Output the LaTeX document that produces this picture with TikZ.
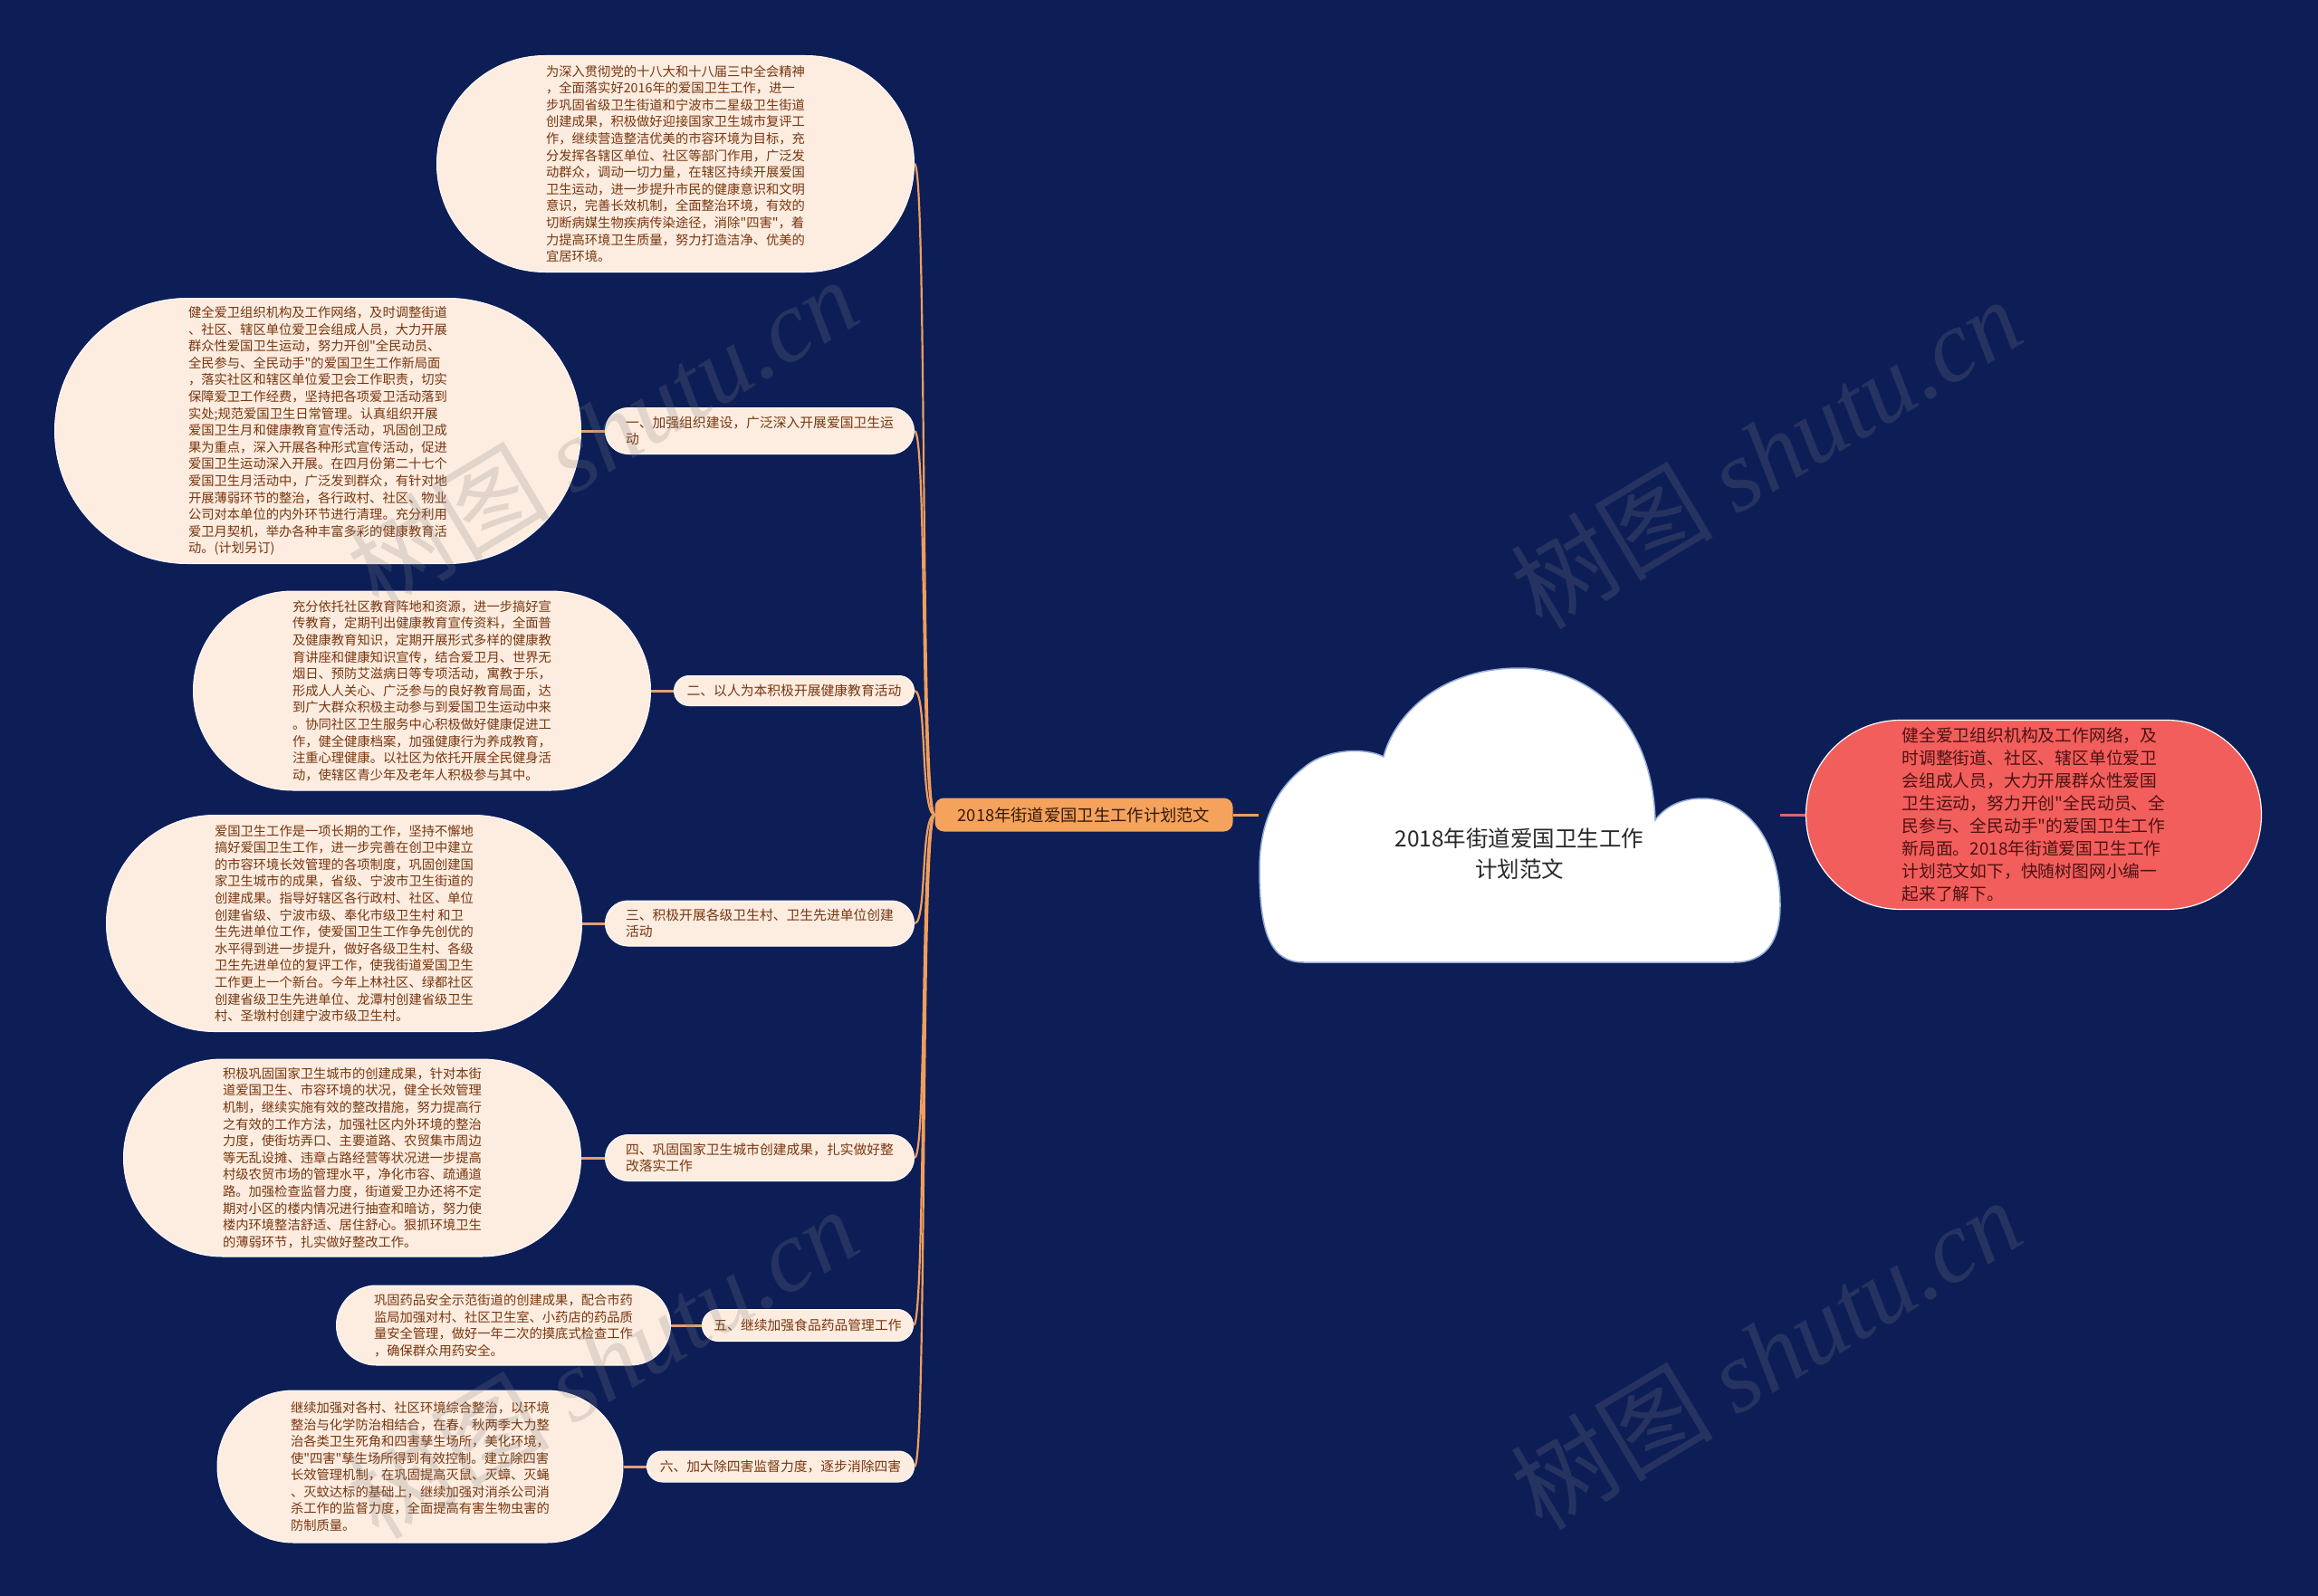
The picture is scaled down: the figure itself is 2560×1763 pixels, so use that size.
\documentclass[tikz,border=0pt]{standalone}
\usepackage{fontspec}
\setmainfont{Noto Sans CJK SC}
\newfontfamily\cjk{Noto Sans CJK SC}
\newfontfamily\wmfont{Liberation Serif}
\usetikzlibrary{shapes.misc}
\definecolor{bg}{RGB}{13,30,87}
\definecolor{peach}{RGB}{253,236,224}
\definecolor{brownt}{RGB}{120,55,15}
\definecolor{linkc}{RGB}{226,160,118}
\definecolor{branchc}{RGB}{240,158,92}
\definecolor{mainfill}{RGB}{244,162,92}
\definecolor{redfill}{RGB}{242,94,92}
\definecolor{redtext}{RGB}{75,18,18}
\definecolor{redline}{RGB}{214,104,110}
\definecolor{cloudedge}{RGB}{150,175,220}
\begin{document}
\begin{tikzpicture}[x=1pt,y=-1pt,
  detail/.style={rounded rectangle, fill=peach, draw=white, line width=1pt,
    inner xsep=0pt, inner ysep=0pt, text=brownt, align=left,
    font=\cjk\fontsize{14.3}{18.6}\selectfont},
  cat/.style={rounded rectangle, fill=peach, draw=white, line width=1pt,
    inner xsep=0pt, inner ysep=0pt, text=brownt, align=left, anchor=east,
    font=\cjk\fontsize{14.8}{17.5}\selectfont},
  linkline/.style={draw=linkc, line width=3pt},
  branchline/.style={draw=branchc, line width=2.2pt},
  wm/.style={rotate=31, text=gray, opacity=0.22, font=\cjk\fontsize{112}{112}\selectfont}
]
\useasboundingbox (0,0) rectangle (2560,1763);
\fill[bg] (0,0) rectangle (2560,1763);

% central cloud
\draw[fill=white, draw=cloudedge, line width=1.5pt]
  (1440,1063) -- (1915,1063)
  .. controls (1950,1063) and (1966,1040) .. (1966,1000)
  .. controls (1966,930) and (1930,882) .. (1880,882)
  .. controls (1856,882) and (1838,892) .. (1828,906)
  .. controls (1825,800) and (1760,738) .. (1678,738)
  .. controls (1590,738) and (1540,790) .. (1528,836)
  .. controls (1510,826) and (1465,826) .. (1440,848)
  .. controls (1405,875) and (1391,915) .. (1391,960)
  .. controls (1391,1035) and (1405,1063) .. (1440,1063) -- cycle;
\node[text={rgb,255:red,40;green,40;blue,40}, align=center,
  font=\cjk\fontsize{24.5}{34}\selectfont] (root) at (1678,943)
  {2018年街道爱国卫生工作\\计划范文};
\coordinate (rootL) at (1390,900);
\coordinate (rootR) at (1966,900);

% right red node
\node[rounded rectangle, fill=redfill, draw=white, line width=1.2pt,
  inner xsep=0pt, inner ysep=0pt, minimum width=503pt, minimum height=209pt,
  text=redtext, align=left, font=\cjk\fontsize{18.8}{25}\selectfont] (R) at (2246,900)
  {健全爱卫组织机构及工作网络，及\\时调整街道、社区、辖区单位爱卫\\会组成人员，大力开展群众性爱国\\卫生运动，努力开创"全民动员、全\\民参与、全民动手"的爱国卫生工作\\新局面。2018年街道爱国卫生工作\\计划范文如下，快随树图网小编一\\起来了解下。};
\draw[draw=redline, line width=3pt] (rootR) -- (R.west);

% main branch node
\node[rectangle, rounded corners=10pt, fill=mainfill, minimum width=329pt,
  minimum height=37pt, inner sep=0pt, text={rgb,255:red,55;green,25;blue,5},
  font=\cjk\fontsize{18.3}{20}\selectfont] (main) at (1197,900)
  {2018年街道爱国卫生工作计划范文};
\draw[branchline, line width=3pt] (main.east) -- (rootL);

% top detail (direct)
\node[detail, minimum width=527pt, minimum height=239pt] (A) at (746,181)
  {为深入贯彻党的十八大和十八届三中全会精神\\，全面落实好2016年的爱国卫生工作，进一\\步巩固省级卫生街道和宁波市二星级卫生街道\\创建成果，积极做好迎接国家卫生城市复评工\\作，继续营造整洁优美的市容环境为目标，充\\分发挥各辖区单位、社区等部门作用，广泛发\\动群众，调动一切力量，在辖区持续开展爱国\\卫生运动，进一步提升市民的健康意识和文明\\意识，完善长效机制，全面整治环境，有效的\\切断病媒生物疾病传染途径，消除"四害"，着\\力提高环境卫生质量，努力打造洁净、优美的\\宜居环境。};

% category nodes
\node[cat, minimum width=341pt, minimum height=51pt] (c1) at (1010,476)
  {一、加强组织建设，广泛深入开展爱国卫生运\\动};
\node[cat, minimum width=265pt, minimum height=33pt] (c2) at (1010,763)
  {二、以人为本积极开展健康教育活动};
\node[cat, minimum width=341pt, minimum height=50pt] (c3) at (1010,1020)
  {三、积极开展各级卫生村、卫生先进单位创建\\活动};
\node[cat, minimum width=341pt, minimum height=51pt] (c4) at (1010,1279)
  {四、巩固国家卫生城市创建成果，扎实做好整\\改落实工作};
\node[cat, minimum width=233pt, minimum height=35pt] (c5) at (1009,1464)
  {五、继续加强食品药品管理工作};
\node[cat, minimum width=295pt, minimum height=34pt] (c6) at (1010,1620)
  {六、加大除四害监督力度，逐步消除四害};

% detail nodes
\node[detail, minimum width=581pt, minimum height=293pt] (B) at (351,476)
  {健全爱卫组织机构及工作网络，及时调整街道\\、社区、辖区单位爱卫会组成人员，大力开展\\群众性爱国卫生运动，努力开创"全民动员、\\全民参与、全民动手"的爱国卫生工作新局面\\，落实社区和辖区单位爱卫会工作职责，切实\\保障爱卫工作经费，坚持把各项爱卫活动落到\\实处;规范爱国卫生日常管理。认真组织开展\\爱国卫生月和健康教育宣传活动，巩固创卫成\\果为重点，深入开展各种形式宣传活动，促进\\爱国卫生运动深入开展。在四月份第二十七个\\爱国卫生月活动中，广泛发到群众，有针对地\\开展薄弱环节的整治，各行政村、社区、物业\\公司对本单位的内外环节进行清理。充分利用\\爱卫月契机，举办各种丰富多彩的健康教育活\\动。(计划另订)};
\node[detail, minimum width=505pt, minimum height=220pt] (C) at (466,763)
  {充分依托社区教育阵地和资源，进一步搞好宣\\传教育，定期刊出健康教育宣传资料，全面普\\及健康教育知识，定期开展形式多样的健康教\\育讲座和健康知识宣传，结合爱卫月、世界无\\烟日、预防艾滋病日等专项活动，寓教于乐，\\形成人人关心、广泛参与的良好教育局面，达\\到广大群众积极主动参与到爱国卫生运动中来\\。协同社区卫生服务中心积极做好健康促进工\\作，健全健康档案，加强健康行为养成教育，\\注重心理健康。以社区为依托开展全民健身活\\动，使辖区青少年及老年人积极参与其中。};
\node[detail, minimum width=525pt, minimum height=239pt] (D) at (380,1020)
  {爱国卫生工作是一项长期的工作，坚持不懈地\\搞好爱国卫生工作，进一步完善在创卫中建立\\的市容环境长效管理的各项制度，巩固创建国\\家卫生城市的成果，省级、宁波市卫生街道的\\创建成果。指导好辖区各行政村、社区、单位\\创建省级、宁波市级、奉化市级卫生村 和卫\\生先进单位工作，使爱国卫生工作争先创优的\\水平得到进一步提升，做好各级卫生村、各级\\卫生先进单位的复评工作，使我街道爱国卫生\\工作更上一个新台。今年上林社区、绿都社区\\创建省级卫生先进单位、龙潭村创建省级卫生\\村、圣墩村创建宁波市级卫生村。};
\node[detail, minimum width=505pt, minimum height=218pt] (E) at (389,1279)
  {积极巩固国家卫生城市的创建成果，针对本街\\道爱国卫生、市容环境的状况，健全长效管理\\机制，继续实施有效的整改措施，努力提高行\\之有效的工作方法，加强社区内外环境的整治\\力度，使街坊弄口、主要道路、农贸集市周边\\等无乱设摊、违章占路经营等状况进一步提高\\村级农贸市场的管理水平，净化市容、疏通道\\路。加强检查监督力度，街道爱卫办还将不定\\期对小区的楼内情况进行抽查和暗访，努力使\\楼内环境整洁舒适、居住舒心。狠抓环境卫生\\的薄弱环节，扎实做好整改工作。};
\node[detail, minimum width=369pt, minimum height=88pt] (F) at (556,1464)
  {巩固药品安全示范街道的创建成果，配合市药\\监局加强对村、社区卫生室、小药店的药品质\\量安全管理，做好一年二次的摸底式检查工作\\，确保群众用药安全。};
\node[detail, minimum width=448pt, minimum height=168pt] (G) at (464,1620)
  {继续加强对各村、社区环境综合整治，以环境\\整治与化学防治相结合，在春、秋两季大力整\\治各类卫生死角和四害孳生场所，美化环境，\\使"四害"孳生场所得到有效控制。建立除四害\\长效管理机制，在巩固提高灭鼠、灭蟑、灭蝇\\、灭蚊达标的基础上，继续加强对消杀公司消\\杀工作的监督力度，全面提高有害生物虫害的\\防制质量。};

% connectors detail -> category
\draw[linkline] (B.east) -- (c1.west);
\draw[linkline] (C.east) -- (c2.west);
\draw[linkline] (D.east) -- (c3.west);
\draw[linkline] (E.east) -- (c4.west);
\draw[linkline] (F.east) -- (c5.west);
\draw[linkline] (G.east) -- (c6.west);

% branch curves from main node
\foreach \n in {A,c1,c2,c3,c4,c5,c6}
  \draw[branchline] (main.west) .. controls +(-16,0) and +(14,0) .. (\n.east);

% watermarks
\node[wm] (wm1) at (665,478) {树图 {\wmfont\itshape shutu.cn}};
\node[wm] (wm2) at (1950,500) {树图 {\wmfont\itshape shutu.cn}};
\node[wm] (wm3) at (665,1505) {树图 {\wmfont\itshape shutu.cn}};
\node[wm] (wm4) at (1950,1495) {树图 {\wmfont\itshape shutu.cn}};
\end{tikzpicture}
\end{document}
